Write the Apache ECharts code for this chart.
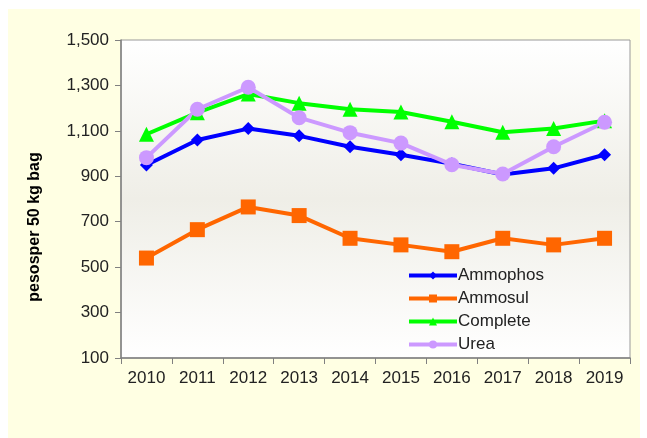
<!DOCTYPE html>
<html>
<head>
<meta charset="utf-8">
<script src="https://cdn.jsdelivr.net/npm/echarts@6/dist/echarts.min.js"></script>
<style>
html,body{margin:0;padding:0;background:#ffffff;}
#c{width:647px;height:438px;}
</style>
</head>
<body>
<div id="c"></div>
<script>
const years = ['2010','2011','2012','2013','2014','2015','2016','2017','2018','2019'];
const ammophos = [950, 1060, 1110, 1078, 1030, 995, 955, 908, 935, 995];
const ammosul  = [540, 665, 765, 727, 627, 598, 568, 627, 598, 627];
const complete = [1085, 1180, 1262, 1222, 1195, 1183, 1140, 1094, 1110, 1145];
const urea     = [982, 1195, 1292, 1158, 1092, 1046, 951, 910, 1030, 1138];
const yTicks = { min: 100, max: 1500, interval: 200 };
const yTitle = 'pesosper 50 kg bag';

const chart = echarts.init(document.getElementById('c'));
const font = '"Liberation Sans", Arial, sans-serif';
function mk(name, data, color, symbol, size) {
  return {
    name: name, type: 'line', data: data,
    symbol: symbol, symbolSize: size,
    lineStyle: { color: color, width: 4 },
    itemStyle: { color: color },
    emphasis: { disabled: true },
    animation: false
  };
}
chart.setOption({
  animation: false,
  graphic: [
    { type: 'rect', z: -10, shape: { x: 8, y: 9, width: 632, height: 429 }, style: { fill: '#FFFFE3' } },
    { type: 'text', x: 35, y: 227, rotation: Math.PI / 2,
      style: { text: yTitle, font: 'bold 16px ' + font, fill: '#000', align: 'center', verticalAlign: 'middle' } }
  ],
  grid: {
    left: 121, top: 40, right: 17, bottom: 80,
    show: true, borderColor: '#9a9a9a', borderWidth: 1,
    backgroundColor: new echarts.graphic.LinearGradient(0, 0, 0, 1, [
      { offset: 0, color: '#FFFFFF' },
      { offset: 0.5, color: '#EFEEE7' },
      { offset: 1, color: '#FFFFFF' }
    ])
  },
  legend: {
    orient: 'vertical', left: 402, top: 262,
    itemWidth: 48, itemHeight: 10, itemGap: 6,
    lineStyle: { width: 4 },
    textStyle: { fontFamily: font, fontSize: 17, color: '#222', padding: [0, 0, 0, -4] },
    data: ['Ammophos', 'Ammosul', 'Complete', 'Urea']
  },
  xAxis: {
    type: 'category', data: years, boundaryGap: true,
    axisLine: { lineStyle: { color: '#808080', width: 1.5 } },
    axisTick: { show: true, length: 6, lineStyle: { color: '#808080' } },
    axisLabel: { fontFamily: font, fontSize: 17, color: '#222', margin: 12 },
    splitLine: { show: false }
  },
  yAxis: {
    type: 'value', min: yTicks.min, max: yTicks.max, interval: yTicks.interval,
    axisLine: { show: true, lineStyle: { color: '#808080', width: 1.5 } },
    axisTick: { show: true, length: 6, lineStyle: { color: '#808080' } },
    axisLabel: { fontFamily: font, fontSize: 17, color: '#222', margin: 12,
      formatter: v => v.toLocaleString('en-US') },
    splitLine: { show: false }
  },
  series: [
    mk('Ammophos', ammophos, '#0000FF', 'diamond', 13),
    mk('Ammosul', ammosul, '#FF6600', 'rect', 15),
    mk('Complete', complete, '#00FF00', 'triangle', 15),
    mk('Urea', urea, '#CC99FF', 'circle', 15)
  ]
});
</script>
</body>
</html>
